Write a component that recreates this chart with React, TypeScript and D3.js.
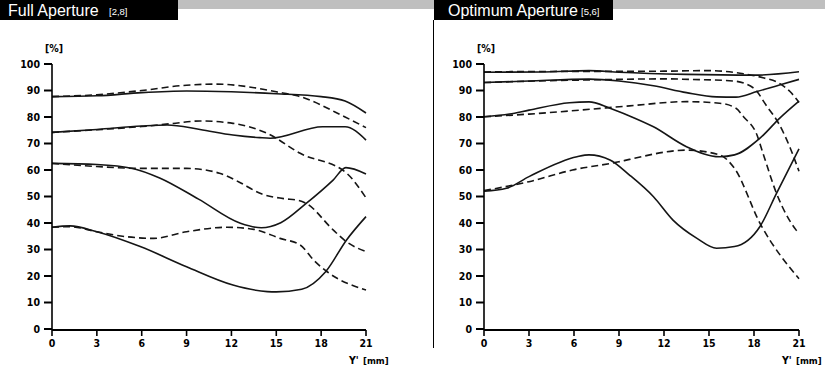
import React from 'react';
import * as d3 from 'd3';

type Pt = [number, number];

// x ticks (image height Y' in mm) and y ticks (contrast in %)
const xTicks = [0, 3, 6, 9, 12, 15, 18, 21];
const yTicks = [0, 10, 20, 30, 40, 50, 60, 70, 80, 90, 100];

// Full aperture [2,8] - solid = sagittal, dashed = tangential
const fullSolid1: Pt[] = [[0, 87.7], [3, 88], [6, 89.2], [9, 89.8], [12, 89.5], [15, 88.8], [18, 87.7], [19.6, 86], [21, 81.5]];
const fullDash1: Pt[] = [[0, 87.7], [3, 88.4], [6, 90], [9, 92], [11, 92.4], [13, 91.5], [15, 89.5], [16.4, 88], [19.6, 80], [21, 76]];
const fullSolid2: Pt[] = [[0, 74.2], [3, 75.3], [6, 76.6], [7.7, 77], [9.9, 75.3], [12.1, 73.2], [13.9, 72.2], [14.6, 72], [18.1, 76.3], [19.6, 76.3], [21, 71.3]];
const fullDash2: Pt[] = [[0, 74.2], [3, 75.2], [6, 76.4], [8, 77.5], [9.9, 78.5], [12.1, 77.6], [14.4, 73.8], [16.6, 66.3], [19.7, 58.8], [21, 49.5]];
const fullSolid3: Pt[] = [[0, 62.5], [3, 62.1], [5.4, 60.6], [7.2, 57], [9.8, 49], [12.6, 39.9], [14, 38.2], [15.3, 40.1], [17, 47.4], [18.8, 56.2], [19.65, 60.9], [21, 58.5]];
const fullDash3: Pt[] = [[0, 62.5], [3, 61.3], [5.9, 60.6], [9, 60.6], [11.2, 58.8], [12.5, 55.5], [14, 51], [15.5, 49.2], [16.5, 48.5], [17, 47.4], [18.8, 37.4], [19.7, 32.9], [21, 29.2]];
const fullSolid4: Pt[] = [[0, 38.4], [1.2, 38.9], [3, 36.7], [5.9, 31.1], [9, 23.5], [12.1, 16.6], [14.4, 14.1], [15, 14], [16.7, 15], [18.3, 21.6], [19.7, 33.6], [21, 42.4]];
const fullDash4: Pt[] = [[0, 38.4], [1.2, 38.6], [3, 36.7], [5, 34.8], [6.8, 34.2], [9, 36.7], [11.7, 38.4], [13.5, 37.6], [15.25, 34.2], [16.6, 31.7], [17.5, 26], [18.4, 21.6], [21, 14.7]];

// Optimum aperture [5,6]
const optSolid1: Pt[] = [[0, 96.9], [4, 97], [7, 97.5], [9, 96.9], [13.5, 96.1], [18, 95.8], [21, 97.1]];
const optDash1: Pt[] = [[0, 97], [5, 97.2], [9, 97.2], [12, 97.3], [15, 97.5], [17.3, 96.3], [18.6, 94.8], [19.7, 92.7], [20.4, 89.6], [21, 85.5]];
const optSolid2: Pt[] = [[0, 93], [3, 93.6], [7, 94.3], [9, 93.6], [11.3, 91.8], [13.5, 89.2], [15.5, 87.6], [16.8, 87.5], [18.2, 89.6], [19.7, 92.1], [21, 94.2]];
const optDash2: Pt[] = [[0, 93], [3, 93.5], [7, 94], [9, 94.2], [12, 94.4], [13.7, 94.2], [16.6, 93.6], [18, 90.8], [18.8, 84.5], [19.7, 77], [20.4, 68.5], [21, 59.5]];
const optSolid3: Pt[] = [[0, 80.1], [1.7, 81.1], [3, 82.6], [5.7, 85.4], [7, 85.7], [8.4, 83.3], [9.7, 80.4], [11.3, 76.3], [13.5, 68.8], [15.7, 65], [16.7, 65.7], [18.4, 72], [19.7, 79.5], [21, 86]];
const optDash3: Pt[] = [[0, 80.1], [3, 81.1], [6.4, 82.6], [9.7, 84.2], [13.5, 85.8], [15.7, 85.2], [16.8, 83.3], [17.3, 80.1], [18.2, 73.2], [18.6, 66.3], [19.5, 51.2], [20.8, 37.4], [21, 36]];
const optSolid4: Pt[] = [[0, 52], [1.5, 53.1], [3, 57.5], [6.2, 65], [7, 65.7], [8.4, 63.8], [9.7, 58.1], [11.3, 49.9], [12.6, 41.1], [14.2, 34.2], [15.5, 30.5], [16.7, 31.1], [18.4, 38.7], [19.5, 51.2], [21, 68]];
const optDash4: Pt[] = [[0, 52.2], [3, 55.6], [5.9, 60], [9, 63.1], [9.7, 64], [13.5, 67.5], [15.7, 65.7], [16.7, 60.6], [18.4, 39.9], [21, 19]];

const narrow = '"DejaVu Sans", sans-serif';
const plain = '"Liberation Sans", Arial, Helvetica, sans-serif';

interface PanelProps {
  x0: number;
  x1: number;
  solid: Pt[][];
  dashed: Pt[][];
}

const lbl = { fontFamily: narrow, fontWeight: 'bold' as const, fontStretch: 'condensed' };

const Panel: React.FC<PanelProps> = ({ x0, x1, solid, dashed }) => {
  const x = d3.scaleLinear().domain([0, 21]).range([x0, x1]);
  const y = d3.scaleLinear().domain([0, 100]).range([329, 64]);
  const line = d3.line<Pt>().x(d => x(d[0])).y(d => y(d[1])).curve(d3.curveMonotoneX);

  return (
    <g>
      {/* curves */}
      {solid.map((s, i) => (
        <path key={'s' + i} d={line(s) || ''} fill="none" stroke="#151515" strokeWidth={1.6} />
      ))}
      {dashed.map((s, i) => (
        <path key={'d' + i} d={line(s) || ''} fill="none" stroke="#151515" strokeWidth={1.6} strokeDasharray="7,4" />
      ))}

      {/* y axis */}
      <line x1={x0} x2={x0} y1={y(100)} y2={y(0)} stroke="#000" strokeWidth={1.6} />
      {yTicks.map(t => (
        <g key={'y' + t}>
          <line x1={x0 - 8} x2={x0} y1={y(t)} y2={y(t)} stroke="#000" strokeWidth={2} />
          <text x={x0 - 12} y={y(t)} dy="0.36em" textAnchor="end" style={lbl} fontSize={10.5}>
            {t}
          </text>
        </g>
      ))}
      <text x={x0 - 7} y={52} style={lbl} fontSize={10.5}>[%]</text>

      {/* x axis */}
      <line x1={x0} x2={x1} y1={330} y2={330} stroke="#000" strokeWidth={2} />
      {xTicks.map(t => (
        <g key={'x' + t}>
          <line x1={x(t)} x2={x(t)} y1={330} y2={336} stroke="#000" strokeWidth={1.6} />
          <text x={x(t)} y={347} textAnchor="middle" style={lbl} fontSize={10.5}>
            {t}
          </text>
        </g>
      ))}
      <text x={x1 - 17} y={364} style={lbl} fontSize={10.5}>Y'</text>
      <text x={x1 - 3} y={364} style={lbl} fontSize={9.5}>[mm]</text>
    </g>
  );
};

const App: React.FC = () => {
  return (
    <svg width={825} height={371} style={{ position: 'absolute', left: 0, top: 0, background: '#fff' }}>
      {/* header bars */}
      <rect x={0} y={0} width={825} height={9} fill="#bfbfbf" />
      <rect x={0} y={0} width={178} height={20} fill="#000" />
      <rect x={434} y={0} width={179} height={20} fill="#000" />
      <text x={8} y={16} fill="#fff" fontFamily={plain} fontSize={16}>Full Aperture</text>
      <text x={109} y={15} fill="#fff" fontFamily={plain} fontSize={9.5}>[2,8]</text>
      <text x={448} y={16} fill="#fff" fontFamily={plain} fontSize={16}>Optimum Aperture</text>
      <text x={581} y={15} fill="#fff" fontFamily={plain} fontSize={9.5}>[5,6]</text>
      <line x1={433.5} x2={433.5} y1={20} y2={348} stroke="#000" strokeWidth={1} />

      <Panel
        x0={52}
        x1={366}
        solid={[fullSolid1, fullSolid2, fullSolid3, fullSolid4]}
        dashed={[fullDash1, fullDash2, fullDash3, fullDash4]}
      />
      <Panel
        x0={484}
        x1={799}
        solid={[optSolid1, optSolid2, optSolid3, optSolid4]}
        dashed={[optDash1, optDash2, optDash3, optDash4]}
      />
    </svg>
  );
};

export default App;
